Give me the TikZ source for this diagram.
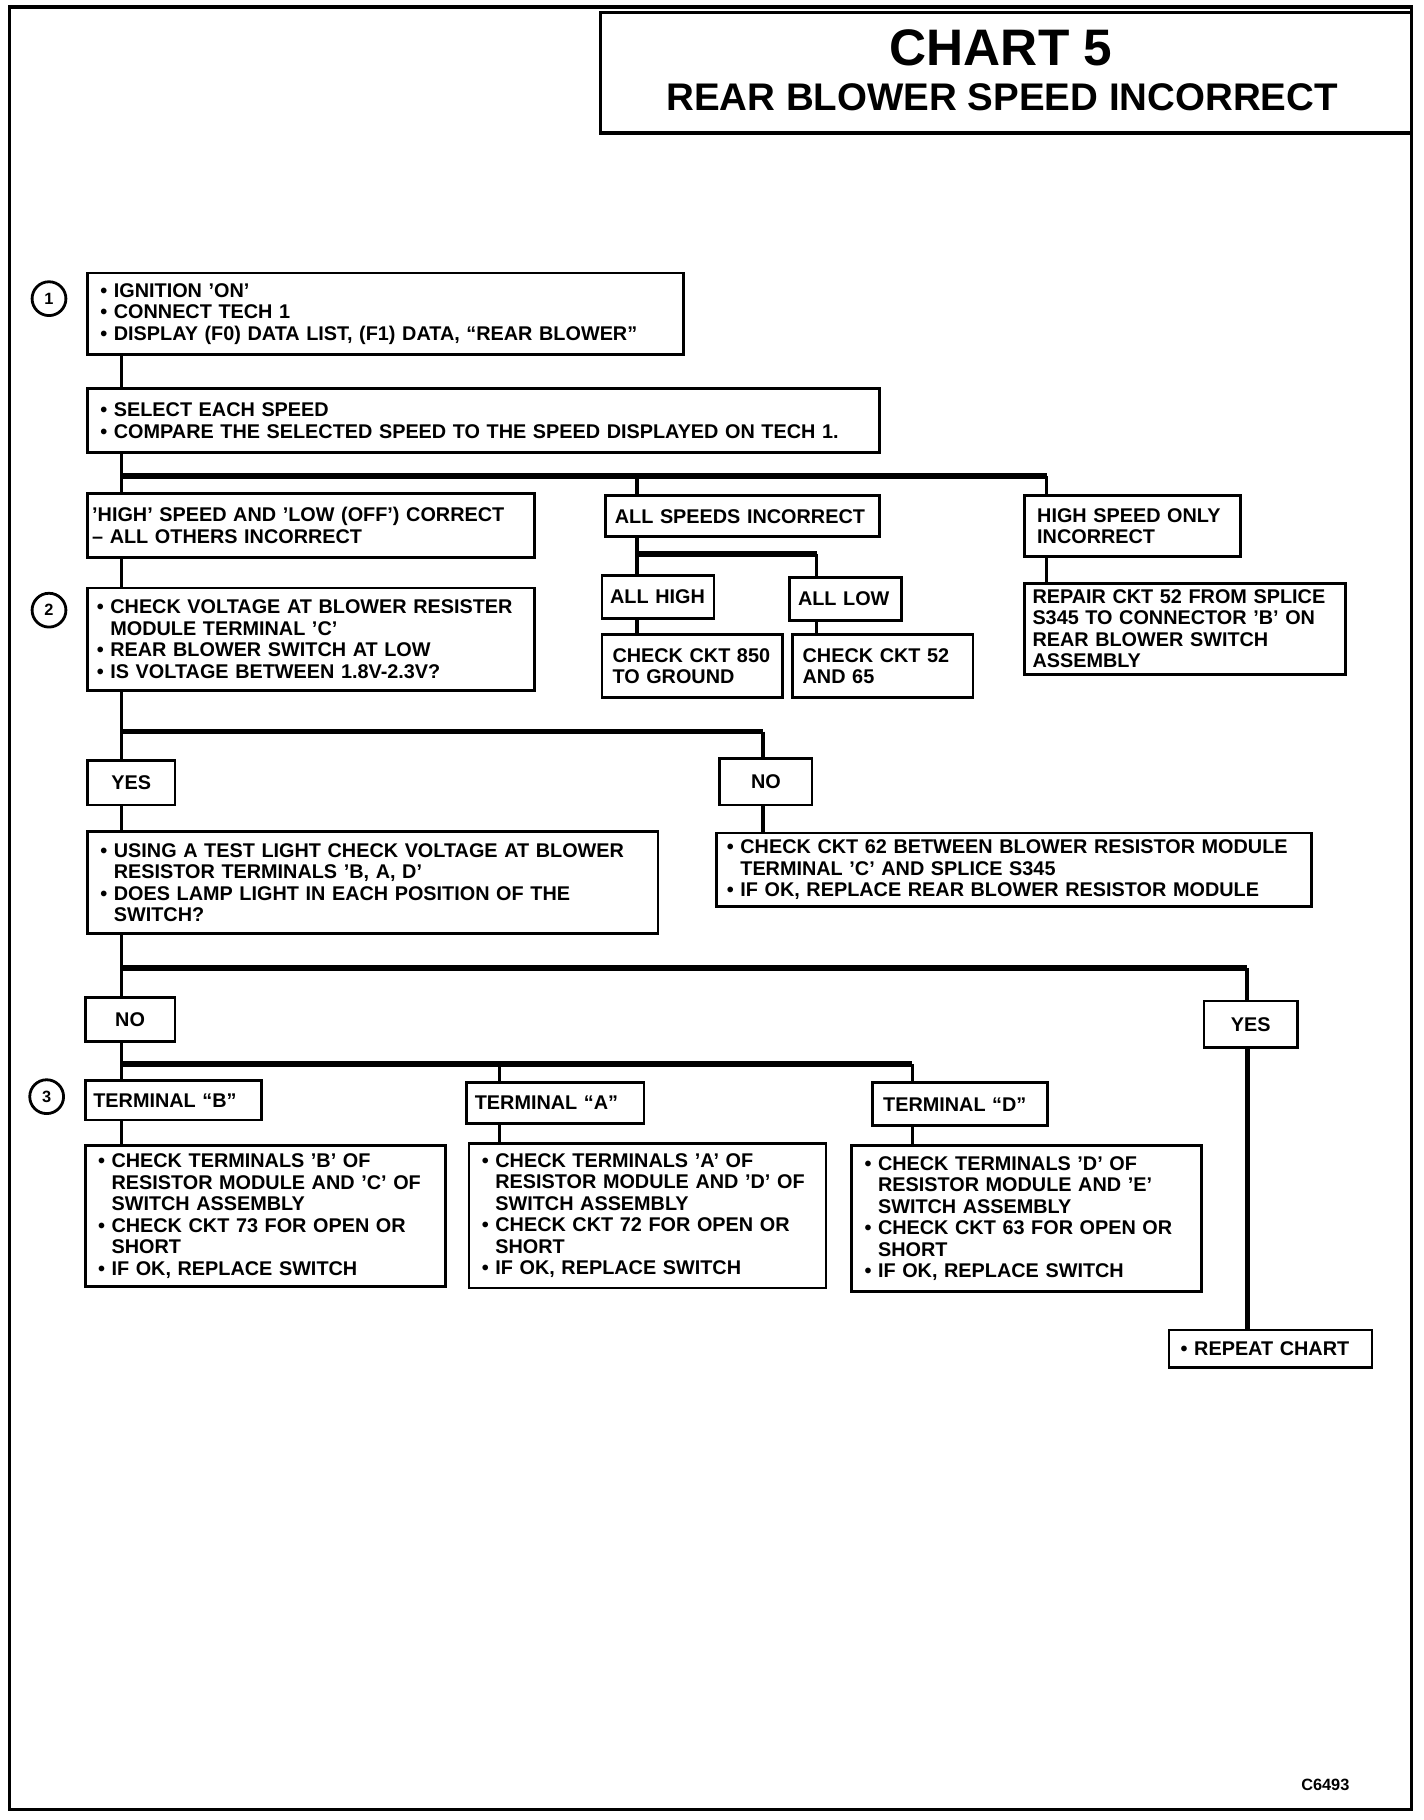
\documentclass[tikz,border=0pt]{standalone}
\usepackage{fontspec}
\setmainfont{Liberation Sans}
\newcommand{\skipbul}{\hphantom{\textbullet\ }}

\begin{document}
\begin{tikzpicture}[x=1pt, y=-1pt,
	box/.style={draw, line width=2.4pt, outer sep=0pt, anchor=north west, align=left, inner xsep=11pt, inner ysep=0pt, font=\bfseries\fontsize{17}{18.4}\selectfont},
	choice/.style={box, align=center, inner xsep=4pt},
	num/.style={draw, circle, line width=2.4pt, minimum size=29pt, inner sep=0pt, font=\bfseries\fontsize{14}{14}\selectfont},
	link/.style={line width=3pt},
	bus/.style={line width=5pt}]
	\useasboundingbox (0,0) rectangle (1220.5,1560);
	\draw[line width=2.6pt] (8,6) rectangle (1210,1551);

	\node[draw, line width=2.6pt, outer sep=0pt, anchor=north west, minimum width=695pt, minimum height=103pt] (title) at (515,11) {};
	\node[anchor=base, font=\bfseries\fontsize{44}{44}\selectfont] (titlea) at (858,56) {CHART 5};
	\node[anchor=base, font=\bfseries\fontsize{33}{33}\selectfont] (titleb) at (859,95) {REAR BLOWER SPEED INCORRECT};

	\node[num] (n1) at (42,256) {1};
	\node[num] (n2) at (42,523) {2};
	\node[num] (n3) at (40,940) {3};

	\node[box, text width=489pt, minimum height=70pt] (ign) at (75,234) {\textbullet\ IGNITION 'ON'\\\textbullet\ CONNECT TECH 1\\\textbullet\ DISPLAY (F0) DATA LIST, (F1) DATA, ``REAR BLOWER''};
	\node[box, text width=657pt, minimum height=55pt] (sel) at (75,333) {\textbullet\ SELECT EACH SPEED\\\textbullet\ COMPARE THE SELECTED SPEED TO THE SPEED DISPLAYED ON TECH 1.};
	\node[box, inner xsep=4pt, text width=375pt, minimum height=55pt] (hilo) at (75,423) {'HIGH' SPEED AND 'LOW (OFF') CORRECT\\-- ALL OTHERS INCORRECT};
	\node[box, inner xsep=8pt, text width=367pt, minimum height=88pt] (volt) at (75,504) {\textbullet\ CHECK VOLTAGE AT BLOWER RESISTER\\\skipbul MODULE TERMINAL 'C'\\\textbullet\ REAR BLOWER SWITCH AT LOW\\\textbullet\ IS VOLTAGE BETWEEN 1.8V-2.3V?};
	\node[box, inner xsep=8pt, text width=219pt, minimum height=35pt] (allsp) at (519,425) {ALL SPEEDS INCORRECT};
	\node[box, inner xsep=7pt, text width=82pt, minimum height=37pt] (allhi) at (516,493) {ALL HIGH};
	\node[box, inner xsep=7pt, text width=82pt, minimum height=37pt] (alllo) at (677,495) {ALL LOW};
	\node[box, inner xsep=9pt, text width=137pt, minimum height=54pt] (ck850) at (516,544) {CHECK CKT 850\\TO GROUND};
	\node[box, inner xsep=9pt, text width=137pt, minimum height=54pt] (ck52) at (679,544) {CHECK CKT 52\\AND 65};
	\node[box, text width=163pt, minimum height=52pt] (hionly) at (878,425) {HIGH SPEED ONLY\\INCORRECT};
	\node[box, inner xsep=7pt, text width=261pt, minimum height=78pt] (repair) at (878,500) {REPAIR CKT 52 FROM SPLICE\\S345 TO CONNECTOR 'B' ON\\REAR BLOWER SWITCH\\ASSEMBLY};

	\node[choice, text width=67pt, minimum height=38pt] (yes1) at (75,652) {YES};
	\node[choice, text width=71pt, minimum height=40pt] (no1) at (617,650) {NO};
	\node[box, text width=467pt, minimum height=87pt] (lamp) at (75,713) {\textbullet\ USING A TEST LIGHT CHECK VOLTAGE AT BLOWER\\\skipbul RESISTOR TERMINALS 'B, A, D'\\\textbullet\ DOES LAMP LIGHT IN EACH POSITION OF THE\\\skipbul SWITCH?};
	\node[box, inner xsep=9pt, text width=492pt, minimum height=63pt] (ck62) at (614,714) {\textbullet\ CHECK CKT 62 BETWEEN BLOWER RESISTOR MODULE\\\skipbul TERMINAL 'C' AND SPLICE S345\\\textbullet\ IF OK, REPLACE REAR BLOWER RESISTOR MODULE};

	\node[choice, text width=69pt, minimum height=38pt] (no2) at (73,855) {NO};
	\node[choice, text width=72pt, minimum height=40pt] (yes2) at (1032,858) {YES};
	\node[box, inner xsep=10pt, text width=154pt, minimum height=32pt] (repeat) at (1002,1140) {\textbullet\ REPEAT CHART};

	\node[box, inner xsep=7pt, text width=137pt, minimum height=34pt] (termB) at (73,926) {TERMINAL ``B''};
	\node[box, inner xsep=7pt, text width=138pt, minimum height=35pt] (termA) at (400,928) {TERMINAL ``A''};
	\node[box, inner xsep=9pt, text width=132pt, minimum height=37pt] (termD) at (748,928) {TERMINAL ``D''};
	\node[box, text width=287pt, minimum height=121pt] (chkB) at (73,982) {\textbullet\ CHECK TERMINALS 'B' OF\\\skipbul RESISTOR MODULE AND 'C' OF\\\skipbul SWITCH ASSEMBLY\\\textbullet\ CHECK CKT 73 FOR OPEN OR\\\skipbul SHORT\\\textbullet\ IF OK, REPLACE SWITCH};
	\node[box, text width=284pt, minimum height=124pt] (chkA) at (402,980) {\textbullet\ CHECK TERMINALS 'A' OF\\\skipbul RESISTOR MODULE AND 'D' OF\\\skipbul SWITCH ASSEMBLY\\\textbullet\ CHECK CKT 72 FOR OPEN OR\\\skipbul SHORT\\\textbullet\ IF OK, REPLACE SWITCH};
	\node[box, text width=278pt, minimum height=125pt] (chkD) at (730,982) {\textbullet\ CHECK TERMINALS 'D' OF\\\skipbul RESISTOR MODULE AND 'E'\\\skipbul SWITCH ASSEMBLY\\\textbullet\ CHECK CKT 63 FOR OPEN OR\\\skipbul SHORT\\\textbullet\ IF OK, REPLACE SWITCH};

	\node[font=\bfseries\fontsize{14}{14}\selectfont] (code) at (1136,1530) {C6493};

	\coordinate (bus1) at (104,408); \coordinate (bus1d) at (546,408); \coordinate (bus1e) at (897,408);
	\coordinate (bus2) at (546,475); \coordinate (bus2e) at (700,475);
	\coordinate (bus3) at (104,627); \coordinate (bus3e) at (654,627);
	\coordinate (bus4) at (104,830); \coordinate (bus4e) at (1069,830);
	\coordinate (bus5) at (104,912); \coordinate (bus5d) at (428,912); \coordinate (bus5e) at (782,912);

	\draw[link] (ign.south -| bus1) -- (sel.north -| bus1);
	\draw[link] (sel.south -| bus1) -- (hilo.north -| bus1);
	\draw[bus] (bus1) -- (bus1e);
	\draw[link] (bus1d) -- (allsp.north -| bus1d);
	\draw[link] (bus1e) -- (hionly.north -| bus1e);
	\draw[link] (hilo.south -| bus1) -- (volt.north -| bus1);
	\draw[link] (allsp.south -| bus2) -- (allhi.north -| bus2);
	\draw[bus] (bus2) -- (bus2e);
	\draw[link] (bus2e) -- (alllo.north -| bus2e);
	\draw[link] (allhi.south -| bus2) -- (ck850.north -| bus2);
	\draw[link] (alllo.south -| bus2e) -- (ck52.north -| bus2e);
	\draw[link] (hionly.south -| bus1e) -- (repair.north -| bus1e);

	\draw[link] (volt.south -| bus3) -- (yes1.north -| bus3);
	\draw[bus] (bus3) -- (bus3e);
	\draw[link] (bus3e) -- (no1.north -| bus3e);
	\draw[link] (yes1.south -| bus3) -- (lamp.north -| bus3);
	\draw[link] (no1.south -| bus3e) -- (ck62.north -| bus3e);

	\draw[link] (lamp.south -| bus4) -- (no2.north -| bus4);
	\draw[bus] (bus4) -- (bus4e);
	\draw[link] (bus4e) -- (yes2.north -| bus4e);
	\draw[line width=4pt] (yes2.south -| bus4e) -- (repeat.north -| bus4e);

	\draw[link] (no2.south -| bus5) -- (termB.north -| bus5);
	\draw[bus] (bus5) -- (bus5e);
	\draw[link] (bus5d) -- (termA.north -| bus5d);
	\draw[link] (bus5e) -- (termD.north -| bus5e);
	\draw[link] (termB.south -| bus5) -- (chkB.north -| bus5);
	\draw[link] (termA.south -| bus5d) -- (chkA.north -| bus5d);
	\draw[link] (termD.south -| bus5e) -- (chkD.north -| bus5e);
\end{tikzpicture}
\end{document}
